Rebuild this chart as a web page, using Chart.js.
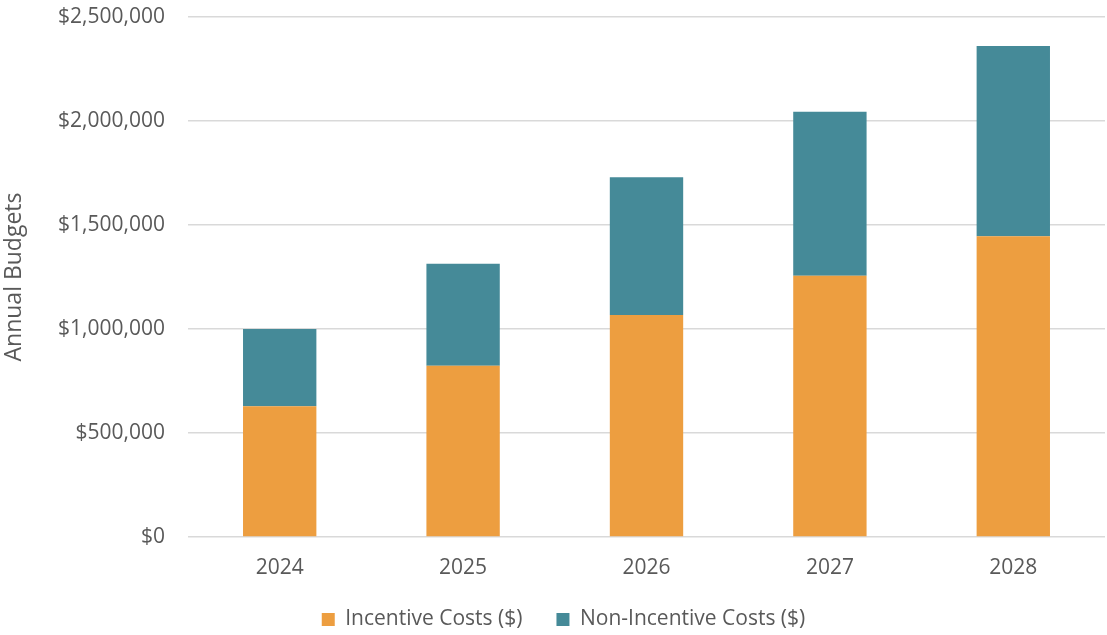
<!DOCTYPE html>
<html>
<head>
<meta charset="utf-8">
<script src="https://cdn.jsdelivr.net/npm/chart.js@4/dist/chart.umd.min.js"></script>
<style>
  html, body { margin: 0; padding: 0; background: #fff; }
  #wrap { width: 1107px; height: 635px; }
</style>
</head>
<body>
<div id="wrap"><canvas id="budgets"></canvas></div>
<script>
const years = ["2024", "2025", "2026", "2027", "2028"];
const incentiveCosts = [629000, 823000, 1067000, 1256000, 1446000];
const nonIncentiveCosts = [371000, 491000, 663000, 789000, 915000];
const yTicks = [0, 500000, 1000000, 1500000, 2000000, 2500000];

const textColor = "#595959";
const font = { family: "'Open Sans', sans-serif", size: 21 };

new Chart(document.getElementById("budgets"), {
  type: "bar",
  data: {
    labels: years,
    datasets: [
      {
        label: "Incentive Costs ($)",
        data: incentiveCosts,
        backgroundColor: "#ED9E40",
        borderWidth: 0,
      },
      {
        label: "Non-Incentive Costs ($)",
        data: nonIncentiveCosts,
        backgroundColor: "#458A98",
        borderWidth: 0,
      },
    ],
  },
  options: {
    responsive: true,
    maintainAspectRatio: false,
    animation: false,
    layout: {
      padding: { top: 0, right: 2, bottom: 0, left: 22 },
    },
    datasets: {
      bar: {
        categoryPercentage: 0.8,
        barPercentage: 0.5,
      },
    },
    plugins: {
      legend: {
        position: "bottom",
        maxHeight: 60,
        labels: {
          color: textColor,
          font: font,
          boxWidth: 13,
          boxHeight: 13,
          padding: 34,
        },
      },
      tooltip: { enabled: false },
    },
    scales: {
      x: {
        stacked: true,
        grid: { display: false, drawTicks: false },
        border: { display: false },
        ticks: { color: textColor, font: font, padding: 18 },
        afterFit: (scale) => {
          scale.height = 38;
        },
      },
      y: {
        stacked: true,
        min: 0,
        max: 2500000,
        afterBuildTicks: (scale) => {
          scale.ticks = yTicks.map((v) => ({ value: v }));
        },
        grid: { color: "#d9d9d9", lineWidth: 1.5, drawTicks: false },
        border: { display: false },
        ticks: {
          color: textColor,
          font: font,
          padding: 23,
          callback: (value) => "$" + value.toLocaleString("en-US"),
        },
        title: {
          display: true,
          text: "Annual Budgets",
          color: textColor,
          font: { family: "'Open Sans', sans-serif", size: 23 },
          padding: { top: -21, bottom: 0 },
        },
        afterFit: (scale) => {
          scale.width = 166;
          scale.paddingTop = 17;
          scale.paddingBottom = 0;
        },
      },
    },
  },
});
</script>
</body>
</html>
